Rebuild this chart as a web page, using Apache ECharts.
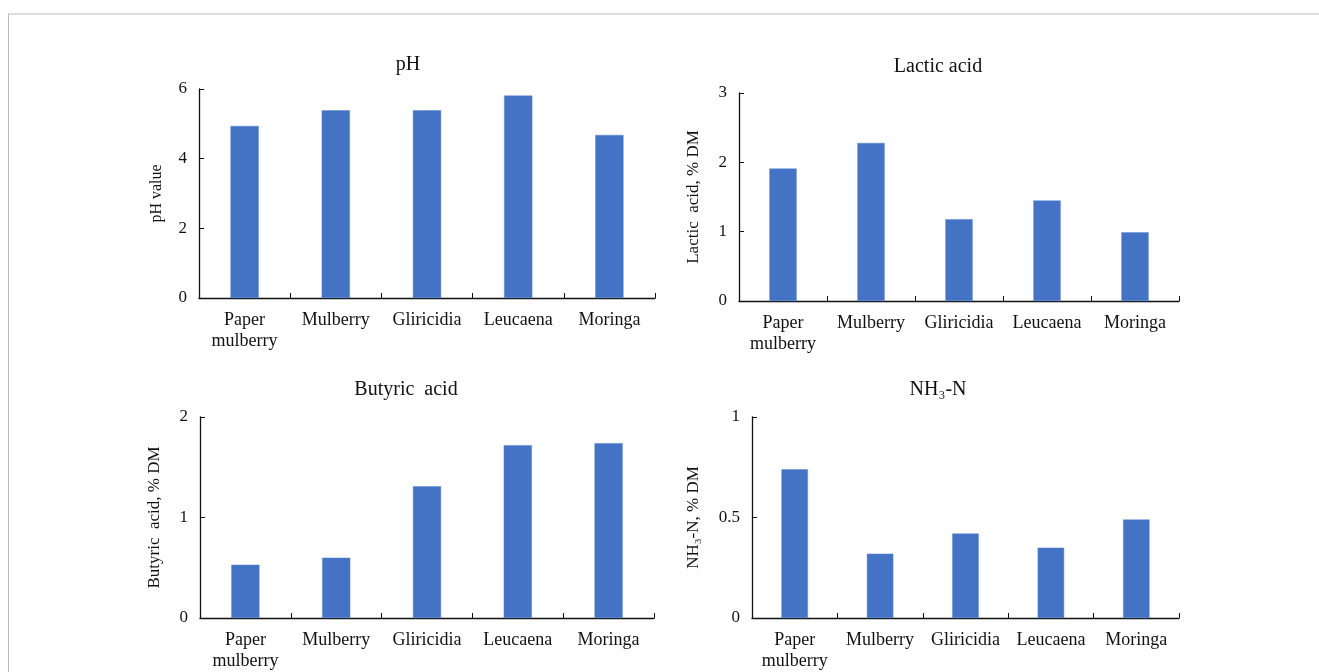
<!DOCTYPE html>
<html>
<head>
<meta charset="utf-8">
<script src="https://cdn.jsdelivr.net/npm/echarts@6/dist/echarts.min.js"></script>
<style>
  html, body { margin: 0; padding: 0; background: #fff; }
  #main { width: 1319px; height: 672px; }
  .frame { position: absolute; left: 8px; top: 13px; width: 1320px; height: 700px;
           border-top: 2px solid #ddd; border-left: 1px solid #bbb; pointer-events: none; }
</style>
</head>
<body>
<div id="main"></div>
<div class="frame"></div>
<script>
var categories = ['Paper\nmulberry', 'Mulberry', 'Gliricidia', 'Leucaena', 'Moringa'];
var phValues = [4.94, 5.39, 5.39, 5.81, 4.68];
var lacticValues = [1.91, 2.28, 1.18, 1.45, 0.99];
var butyricValues = [0.53, 0.60, 1.31, 1.72, 1.74];
var nh3Values = [0.74, 0.32, 0.42, 0.35, 0.49];

var titles = ['pH', 'Lactic acid', 'Butyric  acid', 'NH\u2083-N'];
var yNames = ['pH value', 'Lactic  acid, % DM', 'Butyric  acid, % DM', 'NH\u2083-N, % DM'];
var yMax = [6, 3, 2, 1];
var yStep = [2, 1, 1, 0.5];

var font = '"Liberation Serif", "Times New Roman", serif';
var ink = '#111';

var myChart = echarts.init(document.getElementById('main'));

var grids = [
    { left: 199, top: 89, width: 456, height: 209 },
    { left: 739, top: 93, width: 440, height: 208 },
    { left: 200, top: 417, width: 454, height: 206 },
    { left: 752, top: 417, width: 427, height: 206 }
];
var titlePos = [[403, 50], [933, 52], [401, 375], [933, 375]];
var nameGaps = [34, 37, 37, 50];
var allData = [phValues, lacticValues, butyricValues, nh3Values];

var option = {
    animation: false,
    backgroundColor: '#fff',
    title: titles.map(function (t, i) {
        return {
            text: t,
            left: titlePos[i][0],
            top: titlePos[i][1],
            textAlign: 'center',
            textStyle: { fontFamily: font, fontSize: 20, fontWeight: 'normal', color: ink }
        };
    }),
    grid: grids,
    xAxis: grids.map(function (g, i) {
        return {
            type: 'category',
            gridIndex: i,
            data: categories,
            axisLine: { lineStyle: { color: ink, width: 1.3 } },
            axisTick: { show: true, inside: true, length: 5, lineStyle: { color: ink } },
            axisLabel: {
                fontFamily: font, fontSize: 18, color: ink,
                margin: 12, lineHeight: 21, interval: 0
            }
        };
    }),
    yAxis: grids.map(function (g, i) {
        return {
            type: 'value',
            gridIndex: i,
            min: 0,
            max: yMax[i],
            interval: yStep[i],
            name: yNames[i],
            nameLocation: 'middle',
            nameGap: nameGaps[i],
            nameTextStyle: { fontFamily: font, fontSize: i === 0 ? 16 : 17, color: ink },
            splitLine: { show: false },
            axisLine: { show: true, lineStyle: { color: ink, width: 1.3 } },
            axisTick: { show: true, inside: true, length: 5, lineStyle: { color: ink } },
            axisLabel: { fontFamily: font, fontSize: 17, color: ink, margin: 12 }
        };
    }),
    series: allData.map(function (d, i) {
        return {
            type: 'bar',
            xAxisIndex: i,
            yAxisIndex: i,
            data: d,
            barWidth: '31%',
            itemStyle: { color: '#4472C4', borderColor: '#5a86d4', borderWidth: 0.5 }
        };
    })
};

myChart.setOption(option);
</script>
</body>
</html>
